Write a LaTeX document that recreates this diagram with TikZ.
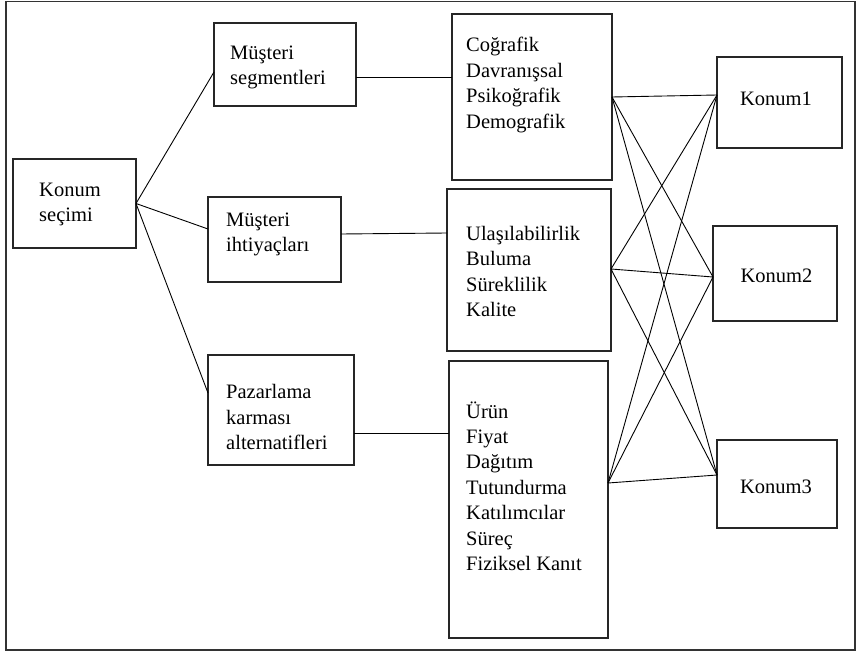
\documentclass[tikz,border=0pt]{standalone}
\usepackage{fontspec}
\setmainfont{Liberation Serif}
\begin{document}
\begin{tikzpicture}[x=1pt,y=-1pt,
  box/.style={draw=black!85,line width=1.1pt,inner sep=0pt,outer sep=0pt},
  txt/.style={anchor=west,align=left,inner sep=0pt,font=\fontsize{20.5}{25.4}\selectfont},
  ktxt/.style={font=\fontsize{20.5}{25.4}\selectfont},
  conn/.style={draw=black,line width=0.9pt}]
\useasboundingbox (0,0) rectangle (858,652);
\draw[draw=black!80,line width=1.2pt] (6,1.5) rectangle (855,650);
% boxes
\node[box,minimum width=123pt,minimum height=89pt] (KS) at (74.5,203.5) {};
\node[box,minimum width=142pt,minimum height=83pt] (MS) at (285,64.5) {};
\node[box,minimum width=133pt,minimum height=85pt] (MI) at (274.5,239.5) {};
\node[box,minimum width=146pt,minimum height=110pt] (PK) at (281,410) {};
\node[box,minimum width=160pt,minimum height=166pt] (C1) at (532,97) {};
\node[box,minimum width=164pt,minimum height=162pt] (C2) at (529,270) {};
\node[box,minimum width=159pt,minimum height=277pt] (C3) at (528.5,499.5) {};
\node[box,minimum width=125pt,minimum height=91pt] (K1) at (779.5,102.5) {};
\node[box,minimum width=124pt,minimum height=95pt] (K2) at (775,273.5) {};
\node[box,minimum width=120pt,minimum height=88pt] (K3) at (777,484) {};
% texts
\node[txt] (tKS) at ([shift={(26,1)}]KS.west) {Konum\\seçimi};
\node[txt] (tMS) at ([shift={(16,3)}]MS.west) {Müşteri\\segmentleri};
\node[txt] (tMI) at ([shift={(18,-5)}]MI.west) {Müşteri\\ihtiyaçları};
\node[txt] (tPK) at ([shift={(18,7)}]PK.west) {Pazarlama\\karması\\alternatifleri};
\node[txt] (tC1) at ([shift={(14,-12)}]C1.west) {Coğrafik\\Davranışsal\\Psikoğrafik\\Demografik};
\node[txt] (tC2) at ([shift={(19,1.5)}]C2.west) {Ulaşılabilirlik\\Buluma\\Süreklilik\\Kalite};
\node[txt] (tC3) at ([shift={(17,-13.5)}]C3.west) {Ürün\\Fiyat\\Dağıtım\\Tutundurma\\Katılımcılar\\Süreç\\Fiziksel Kanıt};
\node[ktxt] (tK1) at ([shift={(-3.5,-3.5)}]K1.center) {Konum1};
\node[ktxt] (tK2) at ([shift={(1.5,2.5)}]K2.center) {Konum2};
\node[ktxt] (tK3) at ([shift={(-1,3)}]K3.center) {Konum3};
% connection points
\coordinate (c1o) at (C1.east);
\coordinate (c2o) at ([shift={(0,-1)}]C2.east);
\coordinate (c3o) at ([shift={(0,-16.5)}]C3.east);
\coordinate (k1i) at ([shift={(0,-7.5)}]K1.west);
\coordinate (k2i) at ([shift={(0,3.5)}]K2.west);
\coordinate (k3i) at ([shift={(0,-9)}]K3.west);
% connectors from Konum secimi
\draw[conn] (KS.east) -- ([shift={(0,7.5)}]MS.west);
\draw[conn] (KS.east) -- ([shift={(0,-10.5)}]MI.west);
\draw[conn] (KS.east) -- ([shift={(0,-17)}]PK.west);
% middle links
\draw[conn] ([shift={(0,12.5)}]MS.east) -- ([shift={(0,-20)}]C1.west);
\draw[conn] ([shift={(0,-5.5)}]MI.east) -- ([shift={(0,-37)}]C2.west);
\draw[conn] ([shift={(0,23)}]PK.east) -- ([shift={(0,-66.5)}]C3.west);
% cross links
\foreach \s in {c1o,c2o,c3o}{
  \foreach \t in {k1i,k2i,k3i}{
    \draw[conn] (\s) -- (\t);
  }
}
\end{tikzpicture}
\end{document}
